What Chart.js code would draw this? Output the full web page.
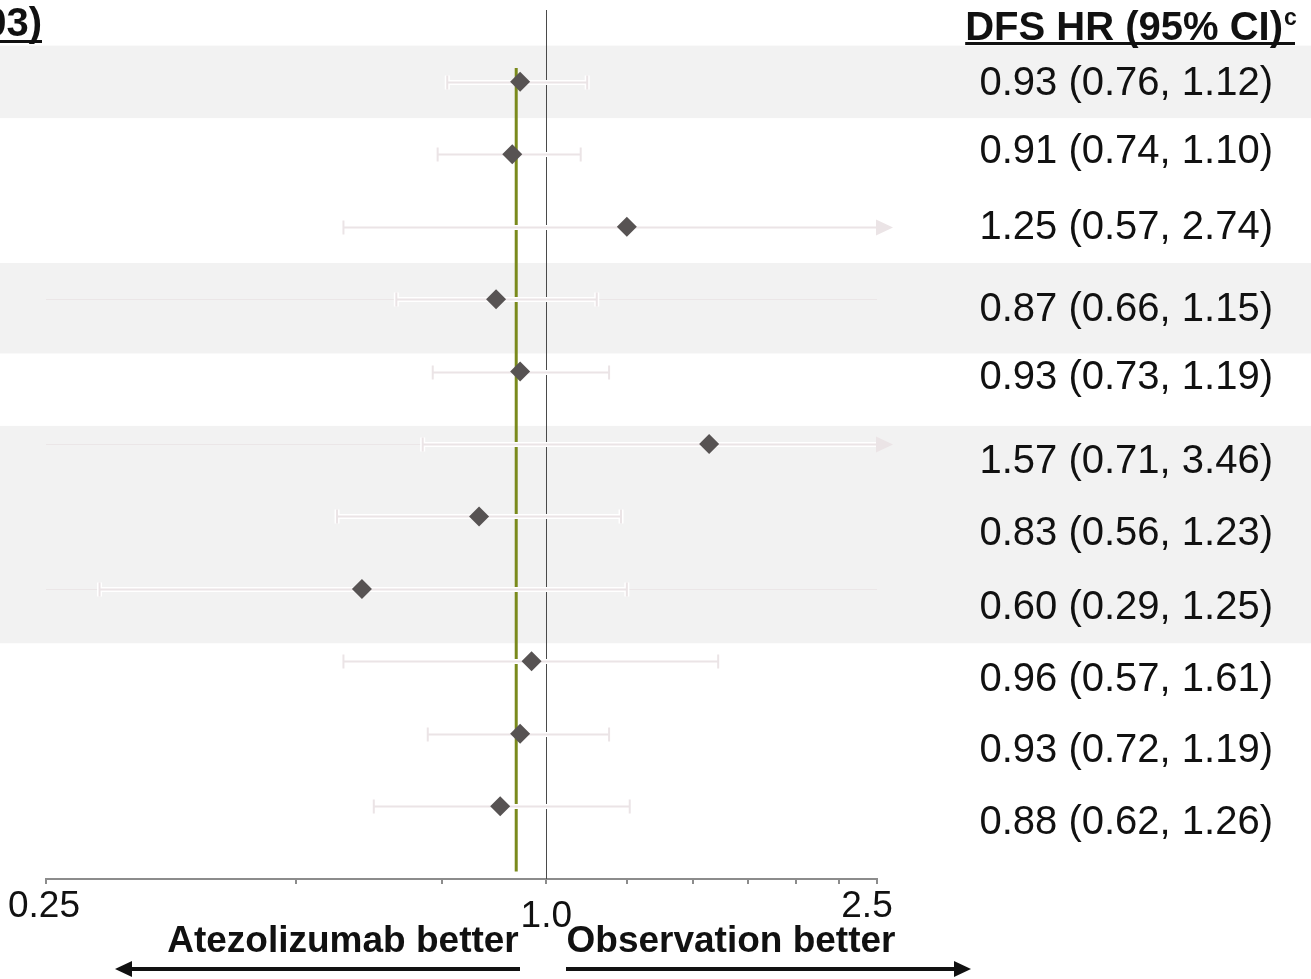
<!DOCTYPE html>
<html>
<head>
<meta charset="utf-8">
<script src="https://cdn.jsdelivr.net/npm/chart.js@4/dist/chart.umd.min.js"></script>
<style>
  html, body { margin: 0; padding: 0; background: #ffffff; overflow: hidden; }
  #wrap { width: 1311px; height: 979px; position: relative; }
  canvas { display: block; }
</style>
</head>
<body>
<div id="wrap"><canvas id="forest" width="1311" height="979"></canvas></div>
<script>
// Hazard ratios and 95% confidence limits, one entry per subgroup row (top to bottom)
const hr     = [0.93, 0.91, 1.25, 0.87, 0.93, 1.57, 0.83, 0.60, 0.96, 0.93, 0.88];
const ciLow  = [0.76, 0.74, 0.57, 0.66, 0.73, 0.71, 0.56, 0.29, 0.57, 0.72, 0.62];
const ciHigh = [1.12, 1.10, 2.74, 1.15, 1.19, 3.46, 1.23, 1.25, 1.61, 1.19, 1.26];

// Overall hazard ratio (olive reference line)
const overallHR = 0.92;

// Axis ticks and the ones that carry a label
const tickValues = [0.25, 0.5, 0.75, 1.0, 1.25, 1.5, 1.75, 2.0, 2.25, 2.5];
const tickLabels = ['0.25', '1.0', '2.5'];
const tickLabelValues = [0.25, 1.0, 2.5];

// Column titles and direction captions
const leftTitle = '(n = 1003)';
const rightTitle = 'DFS HR (95% CI)';
const rightTitleSup = 'c';
const favoursLeft = 'Atezolizumab better';
const favoursRight = 'Observation better';

// Row layout (in row units): shaded row groups and the vertical position of each text line
const shadedBands = [[-0.5, 0.5], [2.5, 3.75], [4.75, 7.75]];
const faintRowLines = [3, 5, 7];
const textRowPos = [0.01, 0.95, 2.0, 3.14, 4.08, 5.23, 6.23, 7.25, 8.25, 9.23, 10.22];

const FONT = '"Liberation Sans", Arial, Helvetica, sans-serif';
const fmt = v => v.toFixed(2);
const rowText = hr.map((v, i) => `${fmt(v)} (${fmt(ciLow[i])}, ${fmt(ciHigh[i])})`);

const CI_COLOR = '#ebe4e6';

const forestPlugin = {
  id: 'forestExtras',
  beforeDraw(chart) {
    const { ctx, scales: { y } } = chart;
    ctx.save();
    ctx.fillStyle = '#f2f2f2';
    shadedBands.forEach(([a, b]) => {
      const y1 = y.getPixelForValue(a), y2 = y.getPixelForValue(b);
      ctx.fillRect(0, y1, chart.width, y2 - y1);
    });
    ctx.restore();
  },
  beforeDatasetsDraw(chart) {
    const { ctx, chartArea: ca, scales: { x, y } } = chart;
    ctx.save();

    // faint row guide lines inside shaded groups
    ctx.strokeStyle = '#ebe6e7';
    ctx.lineWidth = 1;
    faintRowLines.forEach(i => {
      const py = Math.round(y.getPixelForValue(i)) + 0.5;
      ctx.beginPath(); ctx.moveTo(ca.left, py); ctx.lineTo(ca.right, py); ctx.stroke();
    });

    // line of no effect (HR = 1)
    const x1 = Math.round(x.getPixelForValue(1)) + 0.5;
    ctx.strokeStyle = '#4a4a4a';
    ctx.lineWidth = 1;
    ctx.beginPath(); ctx.moveTo(x1, ca.top); ctx.lineTo(x1, ca.bottom); ctx.stroke();

    // overall HR line
    const xo = x.getPixelForValue(overallHR);
    ctx.strokeStyle = '#7a8a1c';
    ctx.lineWidth = 3;
    ctx.beginPath();
    ctx.moveTo(xo, y.getPixelForValue(-0.19));
    ctx.lineTo(xo, y.getPixelForValue(10.9));
    ctx.stroke();

    // confidence intervals
    const capH = 7;
    hr.forEach((v, i) => {
      const py = Math.round(y.getPixelForValue(i)) + 0.5;
      const lo = Math.max(ciLow[i], x.min), hi = Math.min(ciHigh[i], x.max);
      const xl = x.getPixelForValue(lo), xr = x.getPixelForValue(hi);
      const loCap = ciLow[i] >= x.min, hiCap = ciHigh[i] <= x.max;
      // white halo, then the line
      [['#ffffff', 5], [CI_COLOR, 2]].forEach(([col, w]) => {
        ctx.strokeStyle = col;
        ctx.lineWidth = w;
        ctx.beginPath();
        ctx.moveTo(xl, py); ctx.lineTo(xr, py);
        if (loCap) { ctx.moveTo(xl, py - capH); ctx.lineTo(xl, py + capH); }
        if (hiCap) { ctx.moveTo(xr, py - capH); ctx.lineTo(xr, py + capH); }
        ctx.stroke();
      });
      if (!hiCap) {
        ctx.fillStyle = CI_COLOR;
        ctx.beginPath();
        ctx.moveTo(xr - 1, py - 8); ctx.lineTo(xr + 16, py); ctx.lineTo(xr - 1, py + 8);
        ctx.closePath(); ctx.fill();
      }
    });
    ctx.restore();
  },
  afterDraw(chart) {
    const { ctx, scales: { x, y } } = chart;
    ctx.save();
    ctx.fillStyle = '#111111';
    ctx.strokeStyle = '#111111';

    // column titles
    ctx.font = `bold 40px ${FONT}`;
    ctx.textBaseline = 'alphabetic';
    ctx.textAlign = 'right';
    ctx.fillText(leftTitle, 42, 36);
    ctx.fillRect(0, 40, 42, 3);
    ctx.fillText(rightTitle, 1283, 40);
    const tw = ctx.measureText(rightTitle).width;
    ctx.font = `bold 23px ${FONT}`;
    ctx.textAlign = 'left';
    ctx.fillText(rightTitleSup, 1284, 25);
    ctx.fillRect(1283 - tw, 42, 1295 - (1283 - tw), 3);

    // HR (95% CI) column
    ctx.font = `40px ${FONT}`;
    ctx.textAlign = 'right';
    ctx.textBaseline = 'middle';
    rowText.forEach((t, i) => ctx.fillText(t, 1273, y.getPixelForValue(textRowPos[i]) + 1));

    // axis tick labels
    ctx.font = `37px ${FONT}`;
    ctx.textAlign = 'center';
    const labelShift = [-2, 0, -10];
    const labelY = [907, 917, 907];
    tickLabelValues.forEach((v, k) => {
      ctx.fillText(tickLabels[k], x.getPixelForValue(v) + labelShift[k], labelY[k]);
    });

    // direction captions with arrows
    ctx.font = `bold 37px ${FONT}`;
    ctx.textBaseline = 'alphabetic';
    ctx.fillText(favoursLeft, 343, 952);
    ctx.fillText(favoursRight, 731, 952);
    const ay = 969;
    ctx.lineWidth = 4;
    ctx.beginPath(); ctx.moveTo(520, ay); ctx.lineTo(128, ay); ctx.stroke();
    ctx.beginPath(); ctx.moveTo(115, ay); ctx.lineTo(132, ay - 8); ctx.lineTo(132, ay + 8); ctx.closePath(); ctx.fill();
    ctx.beginPath(); ctx.moveTo(566, ay); ctx.lineTo(958, ay); ctx.stroke();
    ctx.beginPath(); ctx.moveTo(971, ay); ctx.lineTo(954, ay - 8); ctx.lineTo(954, ay + 8); ctx.closePath(); ctx.fill();
    ctx.restore();
  }
};

new Chart(document.getElementById('forest'), {
  type: 'scatter',
  data: {
    datasets: [{
      data: hr.map((v, i) => ({ x: v, y: i })),
      pointStyle: 'rectRot',
      pointRadius: 10,
      pointHoverRadius: 10,
      pointBackgroundColor: '#575353',
      pointBorderColor: '#575353',
      pointBorderWidth: 0
    }]
  },
  options: {
    responsive: false,
    animation: false,
    events: [],
    layout: { padding: { left: 46, right: 434, top: 8, bottom: 0 } },
    plugins: { legend: { display: false }, tooltip: { enabled: false } },
    scales: {
      x: {
        type: 'logarithmic',
        min: 0.25,
        max: 2.5,
        afterBuildTicks: s => { s.ticks = tickValues.map(v => ({ value: v })); },
        afterFit: s => { s.height = 100; },
        grid: { drawOnChartArea: false, drawTicks: true, tickLength: 5, color: '#8c8c8c', lineWidth: 2 },
        border: { display: true, color: '#8c8c8c', width: 2 },
        ticks: { display: false }
      },
      y: { type: 'linear', display: false, min: -0.992, max: 11.005, reverse: true }
    }
  },
  plugins: [forestPlugin]
});
</script>
</body>
</html>
